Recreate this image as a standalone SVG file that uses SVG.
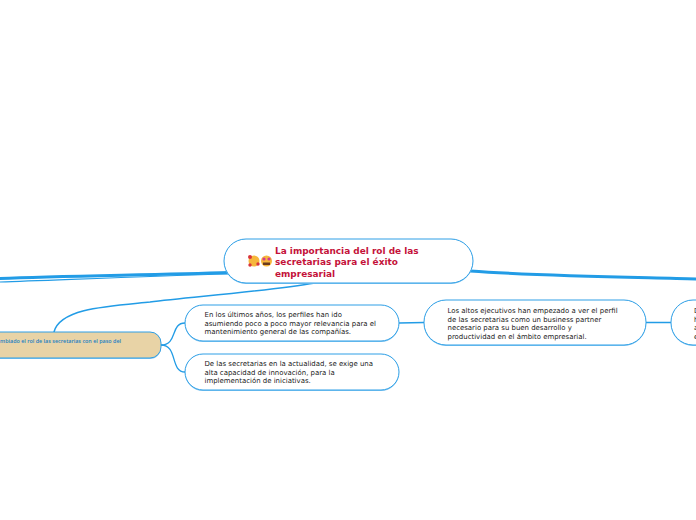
<svg xmlns="http://www.w3.org/2000/svg" width="696" height="520" viewBox="0 0 696 520">
<style>
.n{fill:#fff;stroke:#2e9fe6;stroke-width:1}
.u{fill:#8ccaf2}
.t{font-family:"DejaVu Sans",sans-serif;font-size:6.950px;fill:#222}
.c{fill:none;stroke:#229ce6;stroke-linecap:round}
</style>
<rect width="696" height="520" fill="#fff"/>
<g id="connectors">
<path class="c" d="M230 272.500C150 275 60 276 0 278.500" stroke-width="3"/>
<path class="c" d="M230 274C150 276 60 280 0 282" stroke-width="1.200"/>
<path class="c" d="M470 271C540 276 620 277 696 279" stroke-width="3"/>
<path class="c" d="M315 283C270 291 190 297 150 302C110 306 60 308 54 332" stroke-width="1.500"/>
<path class="c" d="M161 345C178 345 170 323 185 323" stroke-width="1.300"/>
<path class="c" d="M161 345C178 345 170 372 185 372" stroke-width="1.300"/>
<path class="c" d="M399 323L424 322.500" stroke-width="1.500"/>
<path class="c" d="M646 322.500L671 322.500" stroke-width="1.500"/>
</g>
<g id="root">
<rect class="u" x="224" y="239" width="249" height="45" rx="22"/>
<rect class="n" x="224" y="239" width="249" height="44" rx="22"/>
<circle cx="254" cy="261" r="5.500" fill="#f6b73c"/><circle cx="266.500" cy="261" r="5.500" fill="#f6b73c"/>
<circle cx="250" cy="257" r="2" fill="#d8343c"/><circle cx="258" cy="264" r="1.700" fill="#d8343c"/><circle cx="250" cy="265" r="1.700" fill="#d8343c"/>
<circle cx="264" cy="259" r="1.600" fill="#d33a8e"/><circle cx="269" cy="259" r="1.600" fill="#d33a8e"/><rect x="263" y="262.500" width="7" height="2.500" fill="#6b3a1e"/>
<text font-family="'DejaVu Sans',sans-serif" font-size="8.950" font-weight="700" fill="#c4123a"><tspan x="275" y="254">La importancia del rol de las</tspan><tspan x="275" y="265">secretarias para el éxito</tspan><tspan x="275" y="276.500">empresarial</tspan></text>
</g>
<g id="left-node">
<rect class="u" x="-60" y="332" width="221" height="27" rx="11"/>
<rect x="-60" y="332" width="221" height="26" rx="11" fill="#e8d3a6" stroke="#2e9fe6"/>
<text x="0" y="343" font-family="'Open Sans',sans-serif" font-size="6px" fill="#1a7fc4" font-weight="600" textLength="121" lengthAdjust="spacingAndGlyphs">mbiado el rol de las secretarias con el paso del</text>
</g>
<g id="n1">
<rect class="u" x="185" y="305" width="214" height="37" rx="18"/>
<rect class="n" x="185" y="305" width="214" height="36" rx="18"/>
<text class="t"><tspan x="204.500" y="317">En los últimos años, los perfiles han ido</tspan><tspan x="204.500" y="326">asumiendo poco a poco mayor relevancia para el</tspan><tspan x="204.500" y="334">mantenimiento general de las compañías.</tspan></text>
</g>
<g id="n2">
<rect class="u" x="185" y="354" width="214" height="37" rx="18"/>
<rect class="n" x="185" y="354" width="214" height="36" rx="18"/>
<text class="t"><tspan x="204.500" y="366">De las secretarias en la actualidad, se exige una</tspan><tspan x="204.500" y="375">alta capacidad de innovación, para la</tspan><tspan x="204.500" y="383">implementación de iniciativas.</tspan></text>
</g>
<g id="n3">
<rect class="u" x="424" y="300" width="222" height="46" rx="22"/>
<rect class="n" x="424" y="300" width="222" height="45" rx="22"/>
<text class="t"><tspan x="447.500" y="313">Los altos ejecutivos han empezado a ver el perfil</tspan><tspan x="447.500" y="321.500">de las secretarias como un business partner</tspan><tspan x="447.500" y="330">necesario para su buen desarrollo y</tspan><tspan x="447.500" y="338.500">productividad en el ámbito empresarial.</tspan></text>
</g>
<g id="n4">
<rect class="u" x="671" y="300" width="60" height="46" rx="22"/>
<rect class="n" x="671" y="300" width="60" height="45" rx="22"/>
<text class="t"><tspan x="694" y="313">D</tspan><tspan x="694" y="321.500">h</tspan><tspan x="694" y="330">a</tspan><tspan x="694" y="338.500">e</tspan></text>
</g>
</svg>
